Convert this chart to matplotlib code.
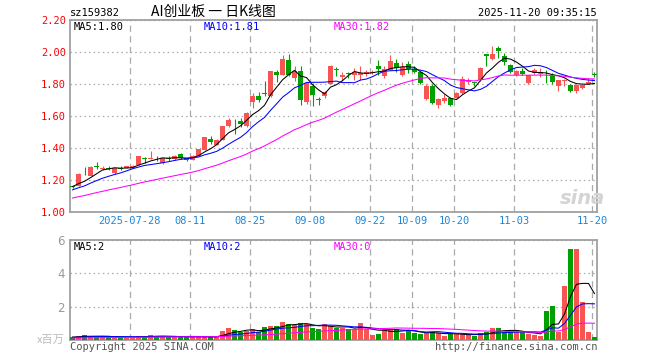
import numpy as np
import pandas as pd
import matplotlib
matplotlib.use("Agg")
import matplotlib.pyplot as plt

# trading days shown on the chart
dates = [
    "2025-07-14", "2025-07-15", "2025-07-16", "2025-07-17", "2025-07-18", "2025-07-21", "2025-07-22",
    "2025-07-23", "2025-07-24", "2025-07-25", "2025-07-28", "2025-07-29", "2025-07-30", "2025-07-31",
    "2025-08-01", "2025-08-04", "2025-08-05", "2025-08-06", "2025-08-07", "2025-08-08", "2025-08-11",
    "2025-08-12", "2025-08-13", "2025-08-14", "2025-08-15", "2025-08-18", "2025-08-19", "2025-08-20",
    "2025-08-21", "2025-08-22", "2025-08-25", "2025-08-26", "2025-08-27", "2025-08-28", "2025-08-29",
    "2025-09-01", "2025-09-02", "2025-09-03", "2025-09-04", "2025-09-05", "2025-09-08", "2025-09-09",
    "2025-09-10", "2025-09-11", "2025-09-12", "2025-09-15", "2025-09-16", "2025-09-17", "2025-09-18",
    "2025-09-19", "2025-09-22", "2025-09-23", "2025-09-24", "2025-09-25", "2025-09-26", "2025-09-29",
    "2025-09-30", "2025-10-09", "2025-10-10", "2025-10-13", "2025-10-14", "2025-10-15", "2025-10-16",
    "2025-10-17", "2025-10-20", "2025-10-21", "2025-10-22", "2025-10-23", "2025-10-24", "2025-10-27",
    "2025-10-28", "2025-10-29", "2025-10-30", "2025-10-31", "2025-11-03", "2025-11-04", "2025-11-05",
    "2025-11-06", "2025-11-07", "2025-11-10", "2025-11-11", "2025-11-12", "2025-11-13", "2025-11-14",
    "2025-11-17", "2025-11-18", "2025-11-19", "2025-11-20",
]

open_ = [1.160, 1.165, 1.238, 1.228, 1.290, 1.268, 1.278, 1.245, 1.275, 1.275,
         1.277, 1.296, 1.338, 1.332, 1.340, 1.306, 1.338, 1.332, 1.362, 1.337,
         1.325, 1.352, 1.390, 1.456, 1.420, 1.452, 1.535, 1.577, 1.570, 1.540,
         1.690, 1.722, 1.745, 1.722, 1.875, 1.858, 1.950, 1.837, 1.883, 1.685,
         1.790, 1.706, 1.722, 1.800, 1.895, 1.845, 1.868, 1.858, 1.858, 1.860,
         1.868, 1.914, 1.852, 1.890, 1.930, 1.855, 1.925, 1.894, 1.873, 1.706,
         1.789, 1.670, 1.692, 1.713, 1.713, 1.744, 1.810, 1.812, 1.827, 1.985,
         1.956, 2.025, 1.977, 1.920, 1.858, 1.883, 1.806, 1.868, 1.862, 1.870,
         1.848, 1.785, 1.817, 1.796, 1.754, 1.776, 1.800, 1.858]
high = [1.165, 1.245, 1.281, 1.285, 1.312, 1.290, 1.285, 1.275, 1.285, 1.290,
        1.295, 1.348, 1.341, 1.383, 1.352, 1.340, 1.352, 1.355, 1.366, 1.340,
        1.355, 1.396, 1.470, 1.477, 1.455, 1.540, 1.585, 1.580, 1.590, 1.625,
        1.745, 1.748, 1.816, 1.880, 1.890, 1.983, 1.985, 1.910, 1.910, 1.808,
        1.806, 1.720, 1.755, 1.916, 1.905, 1.873, 1.875, 1.900, 1.910, 1.885,
        1.885, 1.950, 1.910, 1.980, 1.956, 1.940, 1.945, 1.910, 1.880, 1.800,
        1.800, 1.713, 1.740, 1.716, 1.750, 1.850, 1.840, 1.815, 1.905, 1.988,
        2.035, 2.040, 1.994, 1.925, 1.890, 1.900, 1.856, 1.900, 1.900, 1.889,
        1.870, 1.825, 1.830, 1.798, 1.798, 1.798, 1.837, 1.875]
low = [1.150, 1.160, 1.233, 1.225, 1.270, 1.260, 1.260, 1.240, 1.262, 1.272,
       1.272, 1.294, 1.306, 1.330, 1.316, 1.300, 1.320, 1.328, 1.330, 1.318,
       1.322, 1.350, 1.388, 1.427, 1.418, 1.450, 1.533, 1.490, 1.530, 1.530,
       1.650, 1.685, 1.722, 1.720, 1.815, 1.855, 1.850, 1.816, 1.670, 1.672,
       1.665, 1.670, 1.715, 1.798, 1.848, 1.816, 1.835, 1.827, 1.823, 1.850,
       1.860, 1.858, 1.837, 1.885, 1.873, 1.848, 1.868, 1.867, 1.800, 1.700,
       1.678, 1.650, 1.680, 1.665, 1.710, 1.735, 1.800, 1.790, 1.820, 1.914,
       1.950, 1.962, 1.920, 1.868, 1.848, 1.858, 1.800, 1.860, 1.845, 1.806,
       1.800, 1.754, 1.785, 1.752, 1.744, 1.770, 1.798, 1.843]
close = [1.155, 1.240, 1.235, 1.283, 1.280, 1.277, 1.270, 1.272, 1.270, 1.285,
         1.290, 1.347, 1.334, 1.338, 1.335, 1.338, 1.334, 1.350, 1.338, 1.325,
         1.350, 1.394, 1.469, 1.436, 1.452, 1.539, 1.577, 1.572, 1.553, 1.619,
         1.722, 1.700, 1.740, 1.879, 1.855, 1.956, 1.858, 1.879, 1.702, 1.806,
         1.733, 1.698, 1.750, 1.914, 1.885, 1.858, 1.862, 1.872, 1.868, 1.872,
         1.878, 1.895, 1.894, 1.945, 1.900, 1.905, 1.895, 1.875, 1.806, 1.785,
         1.681, 1.706, 1.712, 1.670, 1.744, 1.831, 1.827, 1.808, 1.900, 1.978,
         1.989, 2.004, 1.935, 1.873, 1.883, 1.862, 1.854, 1.889, 1.872, 1.866,
         1.810, 1.822, 1.825, 1.758, 1.796, 1.796, 1.815, 1.855]
# volume in millions
volume = [0.16, 0.24, 0.30, 0.24, 0.20, 0.18, 0.20, 0.15, 0.18, 0.15,
          0.15, 0.24, 0.24, 0.30, 0.20, 0.20, 0.20, 0.20, 0.20, 0.18,
          0.18, 0.20, 0.20, 0.20, 0.20, 0.56, 0.74, 0.62, 0.46, 0.56,
          0.68, 0.48, 0.78, 0.84, 0.84, 1.08, 0.96, 0.90, 1.02, 0.96,
          0.72, 0.66, 0.96, 0.82, 0.74, 0.74, 0.66, 0.60, 1.02, 0.66,
          0.30, 0.36, 0.60, 0.66, 0.66, 0.42, 0.56, 0.42, 0.36, 0.42,
          0.48, 0.42, 0.24, 0.36, 0.36, 0.36, 0.30, 0.24, 0.42, 0.48,
          0.72, 0.72, 0.48, 0.48, 0.48, 0.48, 0.36, 0.30, 0.24, 1.74,
          2.04, 0.50, 3.26, 5.46, 5.46, 2.30, 0.50, 0.20]

# sessions before the window, only used to seed the moving averages
hist_close = [1.00, 1.01, 1.00, 1.02, 1.03, 1.02, 1.03, 1.04, 1.03, 1.05,
              1.07, 1.08, 1.10, 1.09, 1.11, 1.10, 1.12, 1.11, 1.11, 1.12,
              1.11, 1.12, 1.11, 1.12, 1.13, 1.15, 1.16, 1.17, 1.16]
hist_volume = [0.08, 0.10, 0.07, 0.09, 0.08, 0.10, 0.09, 0.08, 0.07, 0.09,
               0.10, 0.08, 0.09, 0.11, 0.10, 0.09, 0.12, 0.10, 0.11, 0.12,
               0.13, 0.12, 0.14, 0.13, 0.15, 0.18, 0.16, 0.20, 0.18]

tick_dates = ["2025-07-28", "2025-08-11", "2025-08-25", "2025-09-08", "2025-09-22",
              "2025-10-09", "2025-10-20", "2025-11-03", "2025-11-20"]
tick_labels = ["2025-07-28", "08-11", "08-25", "09-08", "09-22", "10-09", "10-20", "11-03", "11-20"]
price_ticks = [1.00, 1.20, 1.40, 1.60, 1.80, 2.00, 2.20]
vol_ticks = [2, 4, 6]

RED = "#f85454"
GREEN = "#00a000"
MA_COLORS = {5: "#000000", 10: "#0000ff", 30: "#ff00ff"}
GRID = "#aaaaaa"
MONO = "DejaVu Sans Mono"
CJK = ["Noto Sans CJK SC", "DejaVu Sans"]

o, h, l, c = map(np.array, (open_, high, low, close))
v = np.array(volume)
x = np.arange(len(dates))
cols = np.where(c >= o, RED, GREEN)


def rolling(hist, vals, n):
    s = pd.Series(list(hist) + list(vals)).rolling(n).mean()
    return s.to_numpy()[len(hist):]


W, H = 660, 360
fig = plt.figure(figsize=(6.6, 3.6), dpi=100)
fig.patch.set_facecolor("white")


def px_axes(x0, y0, x1, y1):
    return fig.add_axes([x0 / W, 1 - y1 / H, (x1 - x0) / W, (y1 - y0) / H])


def ftext(px, py, s, **kw):
    fig.text(px / W, 1 - py / H, s, **kw)


ax = px_axes(70, 20, 597, 212)
ax2 = px_axes(70, 240, 597, 340)

grid_x = [dates.index(d) - 0.42 for d in tick_dates]
xlim = (-0.42, len(dates) - 0.58)

# candles
body_lo = np.minimum(o, c)
body_h = np.maximum(np.abs(c - o), 0.005)
ax.vlines(x, l, h, colors=cols, lw=0.8, zorder=3)
ax.bar(x, body_h, bottom=body_lo, width=0.8, color=cols, lw=0, zorder=4)
for n in (5, 10, 30):
    ax.plot(x, rolling(hist_close, c, n), color=MA_COLORS[n], lw=0.75, zorder=5)

ax.set_xlim(*xlim)
ax.set_ylim(1.0, 2.2)
ax.set_yticks(price_ticks)
ax.set_yticklabels([f"{t:.2f}" for t in price_ticks], color="#ff0000", fontfamily=MONO, fontsize=7.5)
ax.set_xticks(grid_x)
ax.set_xticklabels(tick_labels, color="#1f86d6", fontfamily=MONO, fontsize=7.5)
ax.tick_params(length=0, pad=3)
ax.xaxis.grid(True, color=GRID, lw=0.9, ls=(0, (5, 3.5)))
ax.yaxis.grid(True, color=GRID, lw=0.9, ls=(0, (1.2, 2.5)))
ax.set_axisbelow(True)

# volume
ax2.bar(x, v, width=0.8, color=cols, lw=0, zorder=3)
for n in (5, 10, 30):
    ax2.plot(x, rolling(hist_volume, v, n), color=MA_COLORS[n], lw=0.75, zorder=4)
ax2.set_xlim(*xlim)
ax2.set_ylim(0, 6)
ax2.set_yticks(vol_ticks)
ax2.set_yticklabels([str(t) for t in vol_ticks], color="#999999", fontsize=8.5)
ax2.set_xticks(grid_x)
ax2.set_xticklabels([])
ax2.tick_params(length=0, pad=4)
ax2.xaxis.grid(True, color=GRID, lw=0.9, ls=(0, (5, 3.5)))
ax2.yaxis.grid(True, color=GRID, lw=0.9, ls=(0, (1.2, 2.5)))
ax2.set_axisbelow(True)

for a in (ax, ax2):
    for sp in a.spines.values():
        sp.set_color("#a0a0a0")
        sp.set_linewidth(1.3)
    a.set_facecolor("white")

# header and labels
ftext(70, 13, "sz159382", fontfamily=MONO, fontsize=7.5, va="center")
ftext(213, 12, "AI创业板 一 日K线图", family=CJK, fontsize=10, va="center", ha="center")
ftext(597, 13, "2025-11-20 09:35:15", fontfamily=MONO, fontsize=7.5, va="center", ha="right")

ma_texts = [("MA5:1.80", 74, 5), ("MA10:1.81", 204, 10), ("MA30:1.82", 334, 30)]
for s, px, n in ma_texts:
    ftext(px, 27, s, fontfamily=MONO, fontsize=7.5, va="center", color=MA_COLORS[n])
vol_texts = [("MA5:2", 74, 5), ("MA10:2", 204, 10), ("MA30:0", 334, 30)]
for s, px, n in vol_texts:
    ftext(px, 247, s, fontfamily=MONO, fontsize=7.5, va="center", color=MA_COLORS[n])

ftext(65, 340, "x百万", family=CJK, fontsize=8, va="center", ha="right", color="#bbbbbb")
ftext(70, 347, "Copyright 2025 SINA.COM", fontfamily=MONO, fontsize=7.5, va="center", color="#555555")
ftext(597, 347, "http://finance.sina.com.cn", fontfamily=MONO, fontsize=7.5, va="center",
      ha="right", color="#555555")
ftext(582, 198, "sina", fontsize=14, fontweight="bold", fontstyle="italic", color="#d4d4d4",
      ha="center", va="center")

fig.savefig("out.png", dpi=100)
